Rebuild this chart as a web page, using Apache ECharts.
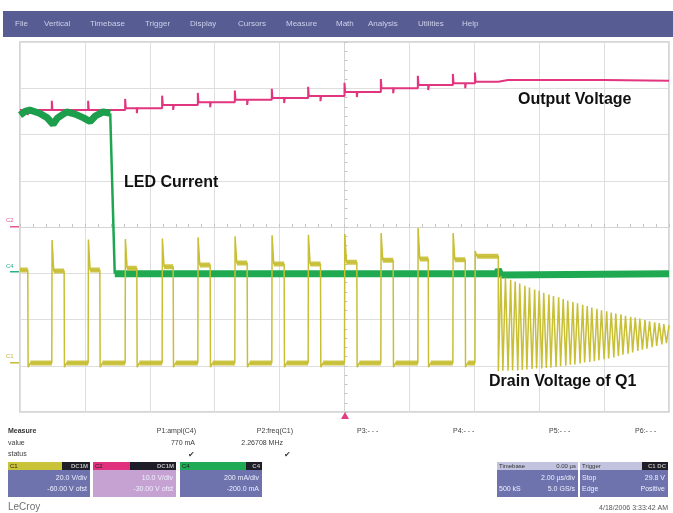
<!DOCTYPE html>
<html><head><meta charset="utf-8">
<script src="https://cdn.jsdelivr.net/npm/echarts@6/dist/echarts.min.js"></script>
<style>html,body{margin:0;padding:0;background:#fff}#c{width:673px;height:513px}</style>
</head><body><div id="c"></div>
<script>
// ---- data (x in divisions from trigger, y in divisions from screen centre) ----
const riseT = [-4.51,-3.95,-3.38,-2.81,-2.26,-1.69,-1.12,-0.56,0.00,0.56,1.13,1.67,2.01];
const fallT = [-4.88,-4.32,-3.77,-3.20,-2.64,-2.07,-1.50,-0.93,-0.37,0.19,0.75,1.29,1.86];
const ringStart = 2.37;
const drainHigh  = [-0.93,-0.95,-0.93,-0.89,-0.86,-0.82,-0.78,-0.80,-0.80,-0.76,-0.72,-0.69,-0.71,-0.63];
const drainSpike = [-0.28,-0.27,-0.26,-0.25,-0.22,-0.20,-0.18,-0.17,-0.15,-0.13,-0.02,-0.13,-0.52];
const drainLow = -2.94;
const drainUnder = -3.03;
const ringT = [2.37,2.41,2.44,2.48,2.52,2.56,2.59,2.63,2.67,2.70,2.74,2.78,2.81,2.85,2.89,2.93,2.96,3.00,3.04,3.07,3.11,3.15,3.18,3.22,3.26,3.30,3.33,3.37,3.41,3.44,3.48,3.52,3.55,3.59,3.63,3.67,3.70,3.74,3.78,3.81,3.85,3.89,3.92,3.96,4.00,4.04,4.07,4.11,4.15,4.18,4.22,4.26,4.29,4.33,4.37,4.41,4.44,4.48,4.52,4.55,4.59,4.63,4.66,4.70,4.74,4.78,4.81,4.85,4.89,4.92,4.96,5.00];
const ringV = [-3.12,-1.06,-3.11,-1.10,-3.11,-1.14,-3.10,-1.18,-3.10,-1.22,-3.09,-1.27,-3.08,-1.31,-3.07,-1.35,-3.06,-1.38,-3.06,-1.42,-3.05,-1.46,-3.04,-1.49,-3.03,-1.52,-3.01,-1.56,-3.00,-1.59,-2.98,-1.62,-2.97,-1.65,-2.95,-1.68,-2.93,-1.71,-2.92,-1.74,-2.90,-1.77,-2.88,-1.80,-2.86,-1.82,-2.84,-1.85,-2.82,-1.87,-2.79,-1.89,-2.76,-1.92,-2.74,-1.94,-2.71,-1.96,-2.68,-1.98,-2.65,-2.01,-2.63,-2.04,-2.60,-2.06,-2.57,-2.08,-2.54,-2.10,-2.51,-2.12];

const ledPreT = [-5.00,-4.92,-4.85,-4.70,-4.58,-4.49,-4.42,-4.28,-4.15,-4.02,-3.92,-3.84,-3.72,-3.61];
const ledPreV = [2.42,2.50,2.53,2.46,2.36,2.22,2.36,2.49,2.44,2.36,2.28,2.40,2.49,2.46];
const ledDropEndT = -3.54;
const ledLevel = -1.01;

const outLevels = [2.53,2.53,2.53,2.57,2.64,2.70,2.75,2.79,2.83,2.92,3.00,3.07,3.11,3.14];
const outAfterRing = 3.18;
const outEnd = 3.16;
const outSpikeUp = 0.2, outSpikeDown = 0.11;

// ---- build series data ----
const yellow = [[-5, drainHigh[0]]];
const yellowFlat = [[-5, drainHigh[0]]];
for (let i = 0; i < riseT.length; i++) {
  yellow.push([fallT[i], drainHigh[i]], [fallT[i] + 0.005, drainUnder], [fallT[i] + 0.04, drainLow]);
  yellowFlat.push([fallT[i], drainHigh[i]], [null, null], [fallT[i] + 0.04, drainLow], [riseT[i], drainLow], [null, null]);
  yellow.push([riseT[i], drainLow], [riseT[i] + 0.004, drainSpike[i]], [riseT[i] + 0.03, drainHigh[i + 1]]);
  yellowFlat.push([riseT[i] + 0.03, drainHigh[i + 1]]);
}
yellow.push([ringStart, drainHigh[drainHigh.length - 1]]);
yellowFlat.push([ringStart, drainHigh[drainHigh.length - 1]]);
for (let k = 0; k < Math.min(ringT.length, ringV.length); k++) yellow.push([ringT[k], ringV[k]]);

const greenPre = ledPreT.map((t, i) => [t, ledPreV[i]]);
const greenDrop = [[ledPreT[ledPreT.length - 1], ledPreV[ledPreV.length - 1]], [ledDropEndT, ledLevel]];
const greenPost = [[ledDropEndT, ledLevel], [ringStart - 0.02, ledLevel], [ringStart, ledLevel + 0.09], [ringStart + 0.04, ledLevel - 0.03], [5, ledLevel]];

const pink = [[-5, outLevels[0]]];
for (let i = 0; i < riseT.length; i++) {
  pink.push([fallT[i], outLevels[i]], [fallT[i], outLevels[i] - outSpikeDown], [fallT[i] + 0.01, outLevels[i]]);
  pink.push([riseT[i], outLevels[i]], [riseT[i], outLevels[i + 1] + outSpikeUp], [riseT[i] + 0.01, outLevels[i + 1]]);
}
pink.push([ringStart, outLevels[outLevels.length - 1]], [ringStart + 0.15, outAfterRing], [4.0, outAfterRing], [5, outEnd]);

// ---- chrome helpers ----
const FONT = '"Liberation Sans", Arial, sans-serif';
const T = (x, y, text, o) => ({type: 'text', x, y, silent: true, z: 10,
  style: Object.assign({text, fill: '#3c3c3c', font: '7px ' + FONT, textAlign: 'left', textVerticalAlign: 'middle', verticalAlign: 'middle'}, o || {})});
const R = (x, y, w, h, fill) => ({type: 'rect', silent: true, z: 5, shape: {x, y, width: w, height: h}, style: {fill}});

const menuItems = ['File','Vertical','Timebase','Trigger','Display','Cursors','Measure','Math','Analysis','Utilities','Help'];
const menuX = [15,44,90,145,190,238,286,336,368,418,462];

const g = [];
g.push(R(3, 11, 670, 26, '#575c93'));
menuItems.forEach((m, i) => g.push(T(menuX[i], 24, m, {fill: '#cdd0ea', font: '8px ' + FONT})));

// channel markers
g.push(T(6, 220, 'C2', {fill: '#e35a92', font: '6px ' + FONT}), R(10, 226, 9, 1.5, '#e35a92'));
g.push(T(6, 266, 'C4', {fill: '#2fae8a', font: '6px ' + FONT}), R(10, 271, 9, 1.5, '#2fae8a'));
g.push(T(6, 356, 'C1', {fill: '#c4bb38', font: '6px ' + FONT}), R(10, 362, 9, 1.5, '#c4bb38'));
// trigger marker
g.push({type: 'polygon', silent: true, z: 10, shape: {points: [[341, 419], [349, 419], [345, 412]]}, style: {fill: '#e33c83'}});

// annotations
const AF = 'bold 16px ' + FONT;
g.push(T(518, 100, 'Output Voltage', {fill: '#111', font: AF}));
g.push(T(124, 183, 'LED Current', {fill: '#111', font: AF}));
g.push(T(489, 382, 'Drain Voltage of Q1', {fill: '#111', font: AF}));

// measure table
g.push(T(8, 431, 'Measure', {font: 'bold 7px ' + FONT, fill: '#333'}));
g.push(T(8, 443, 'value'), T(8, 454, 'status'));
g.push(T(196, 431, 'P1:ampl(C4)', {textAlign: 'right'}), T(195, 443, '770 mA', {textAlign: 'right'}), T(191, 455, '✔', {textAlign: 'center', font: '8px ' + FONT}));
g.push(T(293, 431, 'P2:freq(C1)', {textAlign: 'right'}), T(283, 443, '2.26708 MHz', {textAlign: 'right'}), T(287, 455, '✔', {textAlign: 'center', font: '8px ' + FONT}));
g.push(T(357, 431, 'P3:- - -'), T(453, 431, 'P4:- - -'), T(549, 431, 'P5:- - -'), T(635, 431, 'P6:- - -'));

// channel boxes
const BODY = '#6f73ad';
const W = {fill: '#eef0ff', textAlign: 'right'};
function chBox(x, w, hdrColor, hdrW, name, tag, bodyColor, l1, l2) {
  g.push(R(x, 462, w, 35, bodyColor));
  g.push(R(x, 462, hdrW, 8, hdrColor));
  g.push(R(x + hdrW, 462, w - hdrW, 8, '#1e1e28'));
  g.push(T(x + 2, 466, name, {font: '6px ' + FONT, fill: '#222'}));
  g.push(T(x + w - 2, 466, tag, {font: 'bold 6px ' + FONT, fill: '#bbbbbb', textAlign: 'right'}));
  g.push(T(x + w - 3, 478, l1, W), T(x + w - 3, 489, l2, W));
}
chBox(8, 82, '#c9c33a', 54, 'C1', 'DC1M', BODY, '20.0 V/div', '-60.00 V ofst');
chBox(93, 83, '#e0307e', 37, 'C2', 'DC1M', '#c6a2d2', '10.0 V/div', '-30.00 V ofst');
chBox(180, 82, '#1faa55', 66, 'C4', 'C4', BODY, '200 mA/div', '-200.0 mA');

// timebase / trigger
g.push(R(497, 462, 81, 35, BODY), R(497, 462, 81, 8, '#c2c4df'));
g.push(T(499, 466, 'Timebase', {font: '6px ' + FONT, fill: '#333'}), T(576, 466, '0.00 µs', {font: '6px ' + FONT, fill: '#333', textAlign: 'right'}));
g.push(T(575, 478, '2.00 µs/div', W), T(499, 489, '500 kS', {fill: '#eef0ff'}), T(575, 489, '5.0 GS/s', W));
g.push(R(580, 462, 88, 35, BODY), R(580, 462, 88, 8, '#c2c4df'), R(642, 462, 26, 8, '#1e1e28'));
g.push(T(582, 466, 'Trigger', {font: '6px ' + FONT, fill: '#333'}), T(666, 466, 'C1 DC', {font: 'bold 6px ' + FONT, fill: '#bbbbbb', textAlign: 'right'}));
g.push(T(582, 478, 'Stop', {fill: '#eef0ff'}), T(665, 478, '29.8 V', W), T(582, 489, 'Edge', {fill: '#eef0ff'}), T(665, 489, 'Positive', W));

g.push(T(8, 507, 'LeCroy', {font: '10px ' + FONT, fill: '#707070'}));
g.push(T(668, 508, '4/18/2006 3:33:42 AM', {textAlign: 'right', fill: '#555'}));

const chart = echarts.init(document.getElementById('c'), null, {renderer: 'canvas'});
chart.setOption({
  animation: false,
  backgroundColor: '#ffffff',
  grid: {left: 20, top: 42, width: 649, height: 370, show: true, borderColor: '#c9c9c9', borderWidth: 1.5, backgroundColor: '#ffffff'},
  xAxis: {type: 'value', min: -5, max: 5, interval: 1,
    axisLine: {show: true, onZero: true, lineStyle: {color: '#d4d4d4', width: 1}},
    axisTick: {show: true, inside: true, length: 3, lineStyle: {color: '#c4c4c4'}},
    minorTick: {show: true, splitNumber: 5, length: 3, lineStyle: {color: '#c4c4c4'}},
    axisLabel: {show: false},
    splitLine: {show: true, lineStyle: {color: '#dedede', width: 1}}},
  yAxis: {type: 'value', min: -4, max: 4, interval: 1,
    axisLine: {show: true, onZero: true, lineStyle: {color: '#d4d4d4', width: 1}},
    axisTick: {show: true, inside: true, length: 3, lineStyle: {color: '#c4c4c4'}},
    minorTick: {show: true, splitNumber: 5, length: 3, lineStyle: {color: '#c4c4c4'}},
    axisLabel: {show: false},
    splitLine: {show: true, lineStyle: {color: '#dedede', width: 1}}},
  series: [
    {type: 'line', name: 'Output Voltage', data: pink, showSymbol: false, symbol: 'none', lineStyle: {color: '#e2357f', width: 2}, z: 2},
    {type: 'line', name: 'LED Current', data: greenPre, showSymbol: false, symbol: 'none', lineStyle: {color: '#1d9e4c', width: 7}, z: 3},
    {type: 'line', name: 'LED Current drop', data: greenDrop, showSymbol: false, symbol: 'none', lineStyle: {color: '#1da650', width: 2.5}, z: 3},
    {type: 'line', name: 'LED Current after', data: greenPost, showSymbol: false, symbol: 'none', lineStyle: {color: '#1faa52', width: 7}, z: 3},
    {type: 'line', name: 'Drain Voltage', data: yellow, showSymbol: false, symbol: 'none', lineStyle: {color: '#c8bf35', width: 1.5}, z: 4},
    {type: 'line', name: 'Drain plateaus', data: yellowFlat, showSymbol: false, symbol: 'none', connectNulls: false, lineStyle: {color: '#c8bf35', width: 5, opacity: 0.9}, z: 4}
  ],
  graphic: g
});
</script></body></html>
